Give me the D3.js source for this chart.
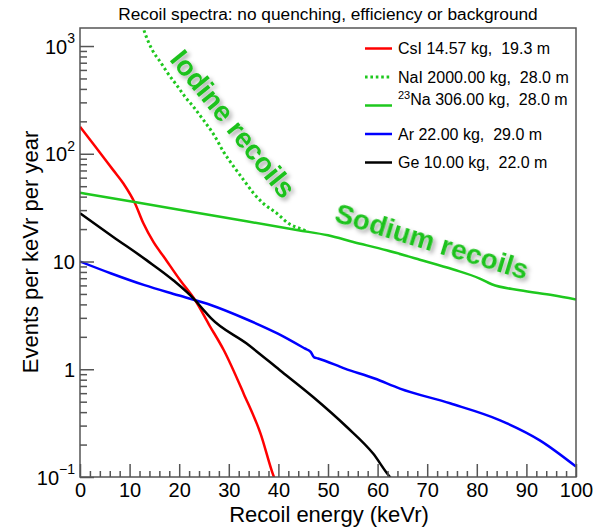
<!DOCTYPE html>
<html>
<head>
<meta charset="utf-8">
<script src="https://cdn.jsdelivr.net/npm/d3@7"></script>
<style>
  body { margin: 0; background: #fff; }
  svg { display: block; }
  text { font-family: "Liberation Sans", Arial, Helvetica, sans-serif; }
</style>
</head>
<body>
<svg id="chart" width="605" height="527"></svg>
<script>
// Recoil energy (keVr) and rate (events / keVr / year) for each target
const csiE = [0, 3, 6.7, 8.75, 11.1, 12.8, 14.8, 17, 20.2, 23.2, 26, 29, 33, 36.4, 39.1, 40];
const csiV = [178, 118, 70.5, 53, 34.6, 22.5, 15.2, 10.9, 6.7, 4.38, 2.6, 1.5, 0.594, 0.253, 0.1, 0.08];

const naiE = [12.3, 12.8, 13.8, 14.8, 16.2, 17.5, 19.5, 21.2, 22.9, 24.9, 27.0, 28.9, 31.0, 33.0, 35.0, 37.0, 39.7, 42.1, 44.4, 46];
const naiV = [1750, 1450, 1090, 880, 713, 576, 433, 337, 272, 205, 150, 105, 76, 57, 43, 34.5, 28, 22.5, 20.2, 18.9];

const naE = [0, 11, 26.5, 44, 50, 55.1, 61.8, 68.5, 75.3, 80.6, 83, 88.7, 95.4, 100];
const naV = [43.4, 35.7, 26.9, 19.5, 17.5, 15.2, 12.7, 10.4, 8.43, 6.95, 6.15, 5.41, 4.86, 4.44];

const arE = [0, 6.3, 13.0, 19.8, 26.5, 33.2, 39.9, 45.3, 46.5, 47.2, 48.0, 53.4, 59.4, 64.5, 74.6, 84.7, 92.7, 100];
const arV = [10, 7.74, 6.03, 4.86, 3.93, 2.96, 2.14, 1.56, 1.45, 1.29, 1.26, 1.015, 0.82, 0.662, 0.483, 0.336, 0.219, 0.125];

const geE = [0, 6.7, 13.4, 18.8, 23.2, 24.8, 26.4, 33.6, 40.3, 47.0, 53.8, 59.1, 62.5, 63.5];
const geV = [28, 16.9, 10.3, 6.70, 4.38, 3.60, 2.98, 1.73, 0.98, 0.553, 0.291, 0.165, 0.1, 0.09];

// Legend
const legendMain = ["CsI 14.57 kg,  19.3 m", "NaI 2000.00 kg,  28.0 m", "Na 306.00 kg,  28.0 m", "Ar 22.00 kg,  29.0 m", "Ge 10.00 kg,  22.0 m"];
const legendSup = ["", "", "23", "", ""];

// Axis ticks
const xMajorTicks = [0, 10, 20, 30, 40, 50, 60, 70, 80, 90, 100];
const yMajorTicks = [0.1, 1, 10, 100, 1000];
const yTickBase = ["10", "1", "10", "10", "10"];
const yTickExp = ["\u22121", "", "", "2", "3"];

const titleText = "Recoil spectra: no quenching, efficiency or background";
const xTitle = "Recoil energy (keVr)";
const yTitle = "Events per keVr per year";
const iodineLabel = "Iodine recoils";
const sodiumLabel = "Sodium recoils";

const RED = "#ff0000", GREEN = "#1ec81e", BLUE = "#0000ff", BLACK = "#000000";
const series = [
  { e: csiE, v: csiV, color: RED, dash: null },
  { e: naiE, v: naiV, color: GREEN, dash: "2.6,2.8" },
  { e: naE, v: naV, color: GREEN, dash: null },
  { e: arE, v: arV, color: BLUE, dash: null },
  { e: geE, v: geV, color: BLACK, dash: null }
];

const L = 80, R = 576, T = 28, B = 477;
const svg = d3.select("#chart");
const x = d3.scaleLinear().domain([0, 100]).range([L, R]);
const y = d3.scaleLog().domain([0.1, 1470]).range([B, T]);

const defs = svg.append("defs");
defs.append("clipPath").attr("id", "plotClip")
  .append("rect").attr("x", L).attr("y", T).attr("width", R - L).attr("height", B - T);
const shadow = defs.append("filter").attr("id", "softShadow")
  .attr("x", "-20%").attr("y", "-20%").attr("width", "140%").attr("height", "140%");
shadow.append("feDropShadow").attr("dx", 2.5).attr("dy", 3).attr("stdDeviation", 2)
  .attr("flood-color", "#000").attr("flood-opacity", 0.35);

// Title
svg.append("text").attr("x", (L + R) / 2).attr("y", 20)
  .attr("text-anchor", "middle").attr("font-size", 17.3).text(titleText);

// Curves
const line = d3.line().x(d => x(d[0])).y(d => y(d[1])).curve(d3.curveMonotoneX);
const curves = svg.append("g").attr("clip-path", "url(#plotClip)");
series.forEach(s => {
  const pts = s.e.map((e, i) => [e, s.v[i]]);
  curves.append("path").attr("d", line(pts)).attr("fill", "none")
    .attr("stroke", s.color).attr("stroke-width", s.dash ? 3 : 2.5)
    .attr("stroke-dasharray", s.dash);
});

// Frame
const AXC = "#555";
svg.append("rect").attr("x", L).attr("y", T).attr("width", R - L).attr("height", B - T)
  .attr("fill", "none").attr("stroke", AXC).attr("stroke-width", 1.5);

// X axis (ticks pointing inward)
const xMinor = d3.range(0, 101, 2).filter(v => v % 10 !== 0);
const gxMinor = svg.append("g").attr("transform", `translate(0,${B})`)
  .call(d3.axisBottom(x).tickValues(xMinor).tickSize(-6).tickFormat(""));
const gx = svg.append("g").attr("transform", `translate(0,${B})`)
  .call(d3.axisBottom(x).tickValues(xMajorTicks).tickSize(-13).tickPadding(6).tickFormat(d3.format("d")));
[gxMinor, gx].forEach(g => {
  g.select(".domain").remove();
  g.selectAll("line").attr("stroke", AXC).attr("stroke-width", 1.5);
});
gx.selectAll("text").attr("font-size", 20).attr("fill", "#000")
  .attr("font-family", "Liberation Sans, Arial, sans-serif");

// Y axis (log)
const yMinor = y.ticks().filter(v => yMajorTicks.every(m => Math.abs(v / m - 1) > 1e-6));
const gyMinor = svg.append("g").attr("transform", `translate(${L},0)`)
  .call(d3.axisLeft(y).tickValues(yMinor).tickSize(-7).tickFormat(""));
const gy = svg.append("g").attr("transform", `translate(${L},0)`)
  .call(d3.axisLeft(y).tickValues(yMajorTicks).tickSize(-14).tickPadding(5).tickFormat(""));
[gyMinor, gy].forEach(g => {
  g.select(".domain").remove();
  g.selectAll("line").attr("stroke", AXC).attr("stroke-width", 1.5);
});
gy.selectAll(".tick text").each(function (d, i) {
  const t = d3.select(this).attr("font-size", 20).attr("fill", "#000")
    .attr("font-family", "Liberation Sans, Arial, sans-serif").attr("dy", "0.36em");
  t.append("tspan").text(yTickBase[i]);
  if (yTickExp[i]) {
    t.append("tspan").attr("font-size", 14).attr("dy", "-0.75em").text(yTickExp[i]);
  }
});

// Axis titles
svg.append("text").attr("x", (L + R) / 2 + 1).attr("y", 522)
  .attr("text-anchor", "middle").attr("font-size", 22).text(xTitle);
svg.append("text").attr("transform", `translate(38,${252}) rotate(-90)`)
  .attr("text-anchor", "middle").attr("font-size", 22).text(yTitle);

// Legend
const lg = svg.append("g");
legendMain.forEach((lab, i) => {
  const ly = 48.5 + i * 28.5;
  const s = series[i];
  lg.append("line").attr("x1", 365).attr("x2", 392).attr("y1", ly).attr("y2", ly)
    .attr("stroke", s.color).attr("stroke-width", s.dash ? 3 : 2.5)
    .attr("stroke-dasharray", s.dash);
  const t = lg.append("text").attr("x", 398).attr("y", ly).attr("dy", "0.36em")
    .attr("font-size", 16).style("white-space", "pre");
  if (legendSup[i]) {
    t.append("tspan").attr("font-size", 11).attr("dy", "-0.6em").text(legendSup[i]);
    t.append("tspan").attr("dy", "0.41em").text(lab);
  } else {
    t.text(lab);
  }
});

// Annotations
const ann = svg.append("g").attr("font-family", "Lato, 'Open Sans', sans-serif")
  .attr("font-weight", "bold").attr("fill", "#1fc21f").attr("filter", "url(#softShadow)");
ann.append("text").attr("transform", "translate(233,124) rotate(51)")
  .attr("text-anchor", "middle").attr("dominant-baseline", "central")
  .attr("font-size", 28).text(iodineLabel);
ann.append("text").attr("transform", "translate(432,241) rotate(17)")
  .attr("text-anchor", "middle").attr("dominant-baseline", "central")
  .attr("font-size", 28).text(sodiumLabel);
</script>
</body>
</html>
